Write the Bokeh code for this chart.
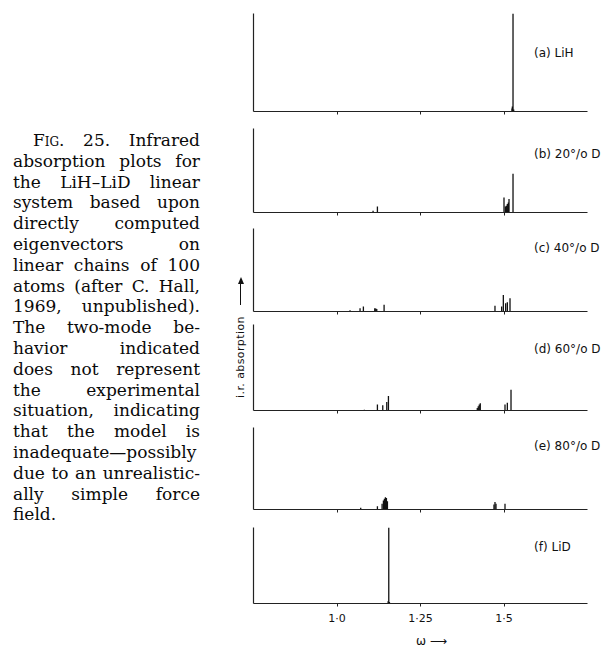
from bokeh.plotting import figure
from bokeh.layouts import row, column
from bokeh.models import Div, FixedTicker, Range1d, Label
from bokeh.embed import file_html
from bokeh.resources import INLINE

# --- data -------------------------------------------------------------
omega_ticks = [1.0, 1.25, 1.5]
tick_labels = ["1·0", "1·25", "1·5"]

panel_labels = ["(a) LiH", "(b) 20°/o D", "(c) 40°/o D",
                "(d) 60°/o D", "(e) 80°/o D", "(f) LiD"]

# line positions (omega) and relative i.r. absorption for each chain
lih_omega = [1.524, 1.525, 1.527, 1.529]
lih_abs = [0.03, 0.05, 1.00, 0.02]

d20_omega = [1.108, 1.121, 1.500, 1.504, 1.507, 1.510, 1.513, 1.515, 1.527]
d20_abs = [0.02, 0.07, 0.18, 0.07, 0.08, 0.10, 0.12, 0.16, 0.46]

d40_omega = [1.039, 1.069, 1.079, 1.113, 1.116, 1.119, 1.141,
             1.473, 1.493, 1.498, 1.505, 1.510, 1.518]
d40_abs = [0.015, 0.04, 0.06, 0.04, 0.035, 0.03, 0.08,
           0.07, 0.06, 0.20, 0.10, 0.11, 0.16]

d60_omega = [1.082, 1.121, 1.137, 1.149, 1.154,
             1.420, 1.423, 1.426, 1.429, 1.503, 1.510, 1.521]
d60_abs = [0.01, 0.07, 0.06, 0.10, 0.17,
           0.03, 0.05, 0.07, 0.085, 0.07, 0.09, 0.24]

d80_omega = [1.071, 1.121, 1.135, 1.139, 1.142, 1.145, 1.148, 1.151,
             1.470, 1.473, 1.476, 1.503]
d80_abs = [0.02, 0.04, 0.07, 0.11, 0.13, 0.15, 0.14, 0.10,
           0.06, 0.09, 0.07, 0.07]

lid_omega = [1.153, 1.155, 1.157]
lid_abs = [0.03, 1.00, 0.02]

caption_lines = [
    "Fig. 25. Infrared",
    "absorption plots for",
    "the LiH–LiD linear",
    "system based upon",
    "directly computed",
    "eigenvectors on",
    "linear chains of 100",
    "atoms (after C. Hall,",
    "1969, unpublished).",
    "The two-mode be-",
    "havior indicated",
    "does not represent",
    "the experimental",
    "situation, indicating",
    "that the model is",
    "inadequate—possibly",
    "due to an unrealistic-",
    "ally simple force",
    "field.",
]

y_label = "i.r. absorption"
x_label = "ω ⟶"

OMEGA_MIN, OMEGA_MAX = 0.75, 1.75

# --- caption column ---------------------------------------------------
def caption_html():
    rows = []
    for i, line in enumerate(caption_lines):
        words = line.split(" ")
        if i == 0:
            words[0] = '<span style="font-variant:small-caps">Fig.</span>'
        spans = "".join(f"<span>{w}</span>" for w in words)
        last = i == len(caption_lines) - 1
        style = "display:flex;white-space:nowrap;"
        style += "justify-content:flex-start;gap:0.3em;" if last else "justify-content:space-between;"
        if i == 0:
            style += "padding-left:20px;"
        rows.append(f'<div style="{style}">{spans}</div>')
    text = (
        '<div style="position:absolute;left:13px;top:130px;width:187px;'
        "font-family:'DejaVu Serif';font-size:17px;line-height:20.8px;color:#0a0a0a;\">"
        + "".join(rows) + "</div>"
    )
    arrow = (
        '<div style="position:absolute;left:240px;top:283px;width:1.3px;height:22px;background:#111;"></div>'
        '<div style="position:absolute;left:237.6px;top:277px;width:0;height:0;'
        'border-left:3px solid transparent;border-right:3px solid transparent;border-bottom:7px solid #111;"></div>'
    )
    label = (
        '<div style="position:absolute;left:240.5px;top:357px;transform:translate(-50%,-50%) rotate(-90deg);'
        "font-family:'DejaVu Sans';font-size:11px;letter-spacing:0.4px;white-space:nowrap;color:#111;\">"
        + y_label + "</div>"
    )
    return '<div style="position:relative;width:248px;height:650px;">' + text + arrow + label + "</div>"


caption = Div(text=caption_html(), width=248, height=650, margin=0)

# --- spectra ----------------------------------------------------------
# frame runs from x=253 to the right edge; omega axis spans 0.75..1.75 over 334 px
X_END = OMEGA_MIN + 356 / 334 * (OMEGA_MAX - OMEGA_MIN)


def make_panel(omega, absorb, name, lab_y, top, frame_h, bottom, last=False):
    p = figure(width=361, height=top + frame_h + bottom,
               x_range=Range1d(OMEGA_MIN, X_END), y_range=Range1d(0, 1),
               output_backend="svg", toolbar_location=None, title=None,
               min_border_left=5, min_border_right=0,
               min_border_top=top, min_border_bottom=bottom)
    p.segment(x0=omega, y0=0, x1=omega, y1=absorb,
              line_color="#111", line_width=1.3)

    p.xgrid.visible = False
    p.ygrid.visible = False
    p.outline_line_color = None

    xa = p.xaxis[0]
    xa.bounds = (OMEGA_MIN, OMEGA_MAX)
    xa.axis_line_color = "#222"
    xa.axis_line_width = 1.2
    if last:
        xa.ticker = FixedTicker(ticks=omega_ticks, minor_ticks=[])
        xa.major_label_overrides = dict(zip(omega_ticks, tick_labels))
        xa.major_tick_in = 0
        xa.major_tick_out = 3
        xa.major_tick_line_color = "#222"
        xa.minor_tick_line_color = None
        xa.major_label_text_font = "DejaVu Sans"
        xa.major_label_text_font_size = "11px"
        xa.major_label_text_color = "#111"
        xa.major_label_standoff = 5
        xa.axis_label = x_label
        xa.axis_label_text_font = "DejaVu Sans"
        xa.axis_label_text_font_size = "12px"
        xa.axis_label_text_font_style = "normal"
        xa.axis_label_text_color = "#111"
        xa.axis_label_standoff = 6
    else:
        # tick marks only: carried as minor ticks, which have no labels
        xa.ticker = FixedTicker(ticks=[], minor_ticks=omega_ticks)
        xa.minor_tick_in = 0
        xa.minor_tick_out = 3
        xa.minor_tick_line_color = "#222"
        xa.major_tick_line_color = None

    ya = p.yaxis[0]
    ya.ticker = FixedTicker(ticks=[], minor_ticks=[])
    ya.major_tick_line_color = None
    ya.minor_tick_line_color = None
    ya.axis_line_color = "#222"
    ya.axis_line_width = 1.2

    p.add_layout(Label(x=1.59, y=lab_y, text=name, text_font="DejaVu Sans",
                       text_font_size="12px", text_baseline="middle",
                       text_color="#111"))
    return p


panels = [
    make_panel(lih_omega, lih_abs, panel_labels[0], 0.60, 13, 98, 5),
    make_panel(d20_omega, d20_abs, panel_labels[1], 0.70, 12, 84, 5),
    make_panel(d40_omega, d40_abs, panel_labels[2], 0.76, 11, 83, 5),
    make_panel(d60_omega, d60_abs, panel_labels[3], 0.72, 8, 86, 5),
    make_panel(d80_omega, d80_abs, panel_labels[4], 0.78, 12, 82, 5),
    make_panel(lid_omega, lid_abs, panel_labels[5], 0.74, 13, 82, 41, last=True),
]

layout = row(caption, column(*panels, spacing=0), spacing=0)

open("out.html", "w").write(file_html(layout, INLINE))
